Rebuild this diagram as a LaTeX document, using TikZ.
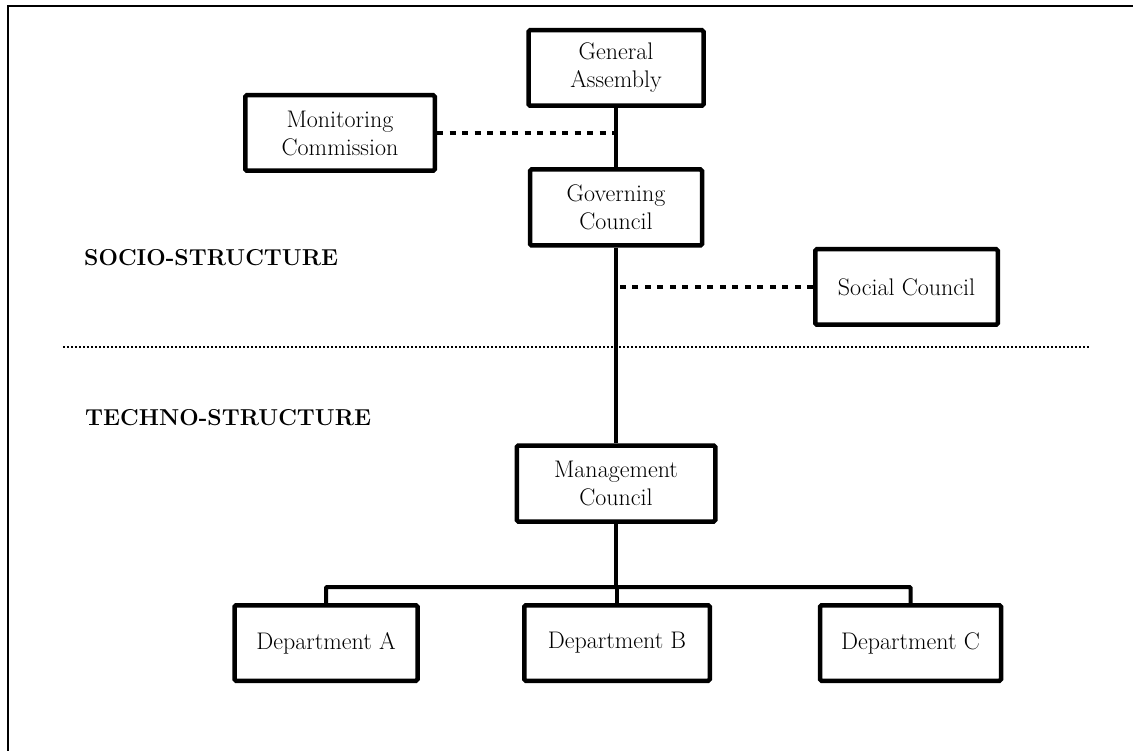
\documentclass[tikz,border=0pt]{standalone}
\begin{document}
\begin{tikzpicture}[x=1pt,y=-1pt,
  box/.style={draw=black,line width=4.5pt,rounded corners=1.5pt,fill=white,
    align=center,inner sep=0pt,font=\fontsize{24}{28}\selectfont},
  conn/.style={line width=4pt},
  dotconn/.style={line width=4.5pt,dash pattern=on 6pt off 6.5pt},
  sep/.style={line width=1.5pt,dash pattern=on 1.5pt off 2.5pt},
  lbl/.style={anchor=base west,inner sep=0pt,font=\fontsize{23}{28}\selectfont\bfseries}]
\useasboundingbox (0,0) rectangle (1133,751);
% outer frame (left and top edges)
\coordinate (fb) at (7.5,760);
\coordinate (ft) at (7.5,6.5);
\coordinate (fr) at (1140,6.5);
\draw[line width=2pt] (fb) -- (ft) -- (fr);
% nodes
\node[box,minimum width=175pt,minimum height=75.5pt] (ga) at (616,68) {General\\Assembly};
\node[box,minimum width=189.5pt,minimum height=75.5pt] (mon) at (340,133) {Monitoring\\Commission};
\node[box,minimum width=172pt,minimum height=76pt] (gc) at (616,207.5) {Governing\\Council};
\node[box,minimum width=182.5pt,minimum height=75.5pt] (sc) at (906.5,287) {Social Council};
\node[box,minimum width=198.5pt,minimum height=76pt] (mgc) at (616,483.5) {Management\\Council};
\node[box,minimum width=183pt,minimum height=75.5pt] (da) at (326,643) {Department A};
\node[box,minimum width=185.5pt,minimum height=75.5pt] (db) at (617,643) {Department B};
\node[box,minimum width=181pt,minimum height=75.5pt] (dc) at (910.5,643) {Department C};
% labels
\node[lbl] (socio) at (84,266) {SOCIO-STRUCTURE};
\node[lbl] (techno) at (85,425) {TECHNO-STRUCTURE};
% separator
\coordinate (sl) at (63,347);
\coordinate (sr) at (1090,347);
\draw[sep] (sl) -- (sr);
% connectors
\draw[conn] (ga.south) -- (gc.north);
\draw[conn] (gc.south) -- (mgc.north);
\draw[dotconn] (mon.east) -- (mon.east -| ga.south);
\draw[dotconn] (sc.west) -- (sc.west -| gc.south);
\coordinate (bus) at (616,587);
\draw[conn] (mgc.south) -- (bus);
\draw[conn,rounded corners=1pt] (da.north) |- (bus) -| (dc.north);
\draw[conn] (bus -| db.north) -- (db.north);
\end{tikzpicture}
\end{document}
